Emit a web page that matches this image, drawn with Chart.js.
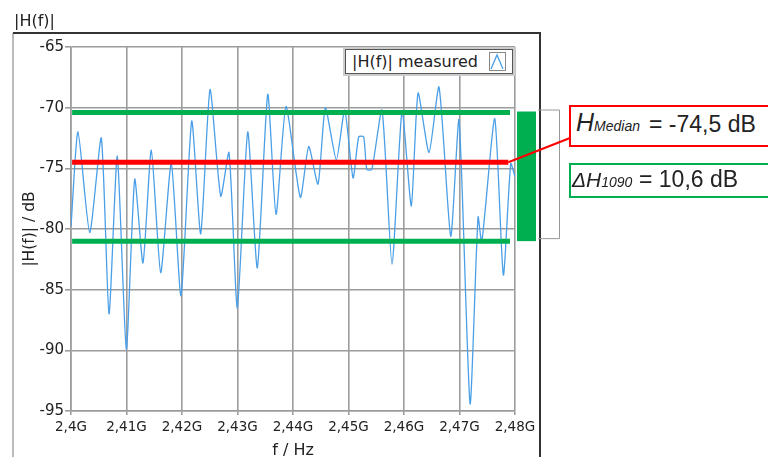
<html>
<head>
<script src="https://cdn.jsdelivr.net/npm/chart.js@4.4.0/dist/chart.umd.min.js"></script>
<style>
  body { margin: 0; background: #fff; overflow: hidden; }
  #wrap { position: relative; width: 768px; height: 457px; }
  #chart { position: absolute; left: 0; top: 0; }
  .lbl { position: absolute; font-family: "DejaVu Sans", sans-serif; color: #222; white-space: nowrap; }
  .box { position: absolute; background: #fff; font-family: "Liberation Sans", Arial, sans-serif; color: #222; white-space: nowrap; }
  .box i { font-style: italic; }
</style>
</head>
<body>
<div id="wrap">
  <canvas id="chart" width="768" height="457"></canvas>
  <div class="lbl" style="left:14px; top:11px; font-size:16px;">|H(f)|</div>
  <div class="lbl" style="left:345px; top:49px; width:166px; height:23px; border:1px solid #555; outline:2px solid #ccc; background:#fff; font-size:16px; line-height:23px;">
    <span style="margin-left:6px;">|H(f)| measured</span>
    <svg style="position:absolute; left:143px; top:2px;" width="17" height="19"><rect x="0.5" y="0.5" width="16" height="18" fill="#fff" stroke="#888"/><polyline points="2,17 8,3 14,17" fill="none" stroke="#4a9fe8" stroke-width="1.3"/></svg>
  </div>
  <div class="box" style="left:569px; top:105px; width:220px; height:38px; border:2px solid #f00;">
    <span style="position:absolute; left:5px; top:1px; font-size:25px;"><i>H</i><i style="font-size:14px;">Median</i></span>
    <span style="position:absolute; left:78px; top:4px; font-size:23px;">= -74,5 dB</span>
  </div>
  <div class="box" style="left:569px; top:163px; width:220px; height:31px; border:2px solid #00b050;">
    <span style="position:absolute; left:1px; top:3px; font-size:21px;"><i>&Delta;H</i><i style="font-size:14px;">1090</i></span>
    <span style="position:absolute; left:68px; top:1px; font-size:23px;">= 10,6 dB</span>
  </div>
</div>
<script>
// frequency in MHz, magnitude in dB
const freqMHz = [2400.0, 2401.26, 2403.37, 2405.46, 2406.85, 2408.34, 2409.97, 2411.48, 2412.97, 2414.47,
  2416.16, 2418.07, 2419.82, 2421.75, 2423.37, 2425.05, 2426.98, 2428.47, 2429.97, 2431.84,
  2433.57, 2435.45, 2436.94, 2438.74, 2441.32, 2442.83, 2444.51, 2445.83, 2447.81, 2449.32,
  2450.82, 2451.84, 2452.74, 2453.30, 2454.20, 2456.04, 2457.84, 2459.65, 2461.32, 2462.53,
  2464.51, 2466.31, 2468.42, 2469.92, 2471.90, 2473.34, 2474.01, 2476.35, 2477.90, 2479.23, 2480.0];
const magDB = [-79.8, -72.0, -80.3, -72.5, -87.0, -74.0, -89.9, -75.9, -82.8, -73.5,
  -83.6, -74.6, -85.5, -71.1, -80.4, -68.5, -77.3, -73.7, -86.5, -72.0,
  -83.2, -68.9, -78.8, -69.9, -77.4, -73.2, -76.3, -70.0, -74.3, -70.2,
  -75.8, -72.4, -72.4, -75.1, -75.1, -70.2, -82.9, -70.3, -78.1, -68.8,
  -73.7, -68.3, -80.6, -71.0, -94.4, -79.0, -81.1, -70.9, -83.8, -74.6, -75.7];

const xTickLabels = ['2,4G', '2,41G', '2,42G', '2,43G', '2,44G', '2,45G', '2,46G', '2,47G', '2,48G'];
const medianDB = -74.5;
const upperDB = -70.4;   // 10 % level
const lowerDB = -81.0;   // 90 % level
const levelStart = 2400.2;
const levelEnd = 2479.1;
const medianEnd = 2478.8;

const measured = freqMHz.map((f, i) => ({ x: f, y: magDB[i] }));

const extras = {
  id: 'extras',
  beforeDraw(chart) {
    const c = chart.ctx;
    c.save();
    // outer frame
    c.lineWidth = 2;
    c.strokeStyle = '#bbb';
    c.beginPath(); c.moveTo(13, 33); c.lineTo(13, 457); c.stroke();
    c.strokeStyle = '#333';
    c.beginPath(); c.moveTo(13, 33); c.lineTo(540, 33); c.lineTo(540, 457); c.stroke();
    c.restore();
  },
  afterDraw(chart) {
    const c = chart.ctx;
    const y = chart.scales.y, x = chart.scales.x;
    const yTop = y.getPixelForValue(upperDB), yBot = y.getPixelForValue(lowerDB);
    c.save();
    // bracket
    c.strokeStyle = '#999';
    c.lineWidth = 1;
    c.beginPath();
    c.moveTo(538, yTop - 2.5); c.lineTo(559.5, yTop - 2.5); c.lineTo(559.5, yBot - 2.5); c.lineTo(538, yBot - 2.5);
    c.stroke();
    // spread bar
    c.fillStyle = '#00b050';
    c.fillRect(517, yTop - 1, 19, yBot - yTop + 1);
    // connector to median box
    c.strokeStyle = '#f00';
    c.lineWidth = 2;
    c.beginPath();
    c.moveTo(x.getPixelForValue(medianEnd), y.getPixelForValue(medianDB));
    c.lineTo(570, 138);
    c.stroke();
    c.restore();
  }
};

new Chart(document.getElementById('chart'), {
  type: 'line',
  data: {
    datasets: [
      { data: measured, borderColor: '#4a9fe8', borderWidth: 1.3, pointRadius: 0, tension: 0.2, order: 3 },
      { data: [{ x: levelStart, y: medianDB }, { x: medianEnd, y: medianDB }], borderColor: '#ff0000', borderWidth: 5, pointRadius: 0, order: 1 },
      { data: [{ x: levelStart, y: upperDB }, { x: levelEnd, y: upperDB }], borderColor: '#00b050', borderWidth: 5, pointRadius: 0, order: 2 },
      { data: [{ x: levelStart, y: lowerDB }, { x: levelEnd, y: lowerDB }], borderColor: '#00b050', borderWidth: 5, pointRadius: 0, order: 2 }
    ]
  },
  options: {
    responsive: false,
    animation: false,
    devicePixelRatio: 1,
    layout: { padding: { left: 21, top: 47, right: 253, bottom: 0 } },
    plugins: { legend: { display: false }, tooltip: { enabled: false } },
    scales: {
      x: {
        type: 'linear', min: 2400, max: 2480,
        afterFit: s => { s.height = 46; },
        afterBuildTicks: s => { s.ticks = xTickLabels.map((_, i) => ({ value: 2400 + i * 10 })); },
        ticks: {
          callback: (v) => xTickLabels[Math.round((v - 2400) / 10)],
          color: '#222', font: { family: 'DejaVu Sans', size: 13.5 }, padding: 4, maxRotation: 0
        },
        grid: { color: '#9c9c9c', lineWidth: 1.6, tickLength: 4 },
        border: { color: '#9c9c9c', width: 1.6 },
        title: { display: true, text: 'f / Hz', color: '#222', font: { family: 'DejaVu Sans', size: 16 }, padding: { top: 0, bottom: -3 } }
      },
      y: {
        min: -95, max: -65,
        afterFit: s => { s.width = 50; },
        ticks: { stepSize: 5, color: '#222', font: { family: 'DejaVu Sans', size: 15 }, padding: 1 },
        grid: { color: '#9c9c9c', lineWidth: 1.6, tickLength: 6 },
        border: { color: '#9c9c9c', width: 1.6 },
        title: { display: true, text: '|H(f)| / dB', color: '#222', font: { family: 'DejaVu Sans', size: 15.5 }, padding: 0 }
      }
    }
  },
  plugins: [extras]
});
</script>
</body>
</html>
